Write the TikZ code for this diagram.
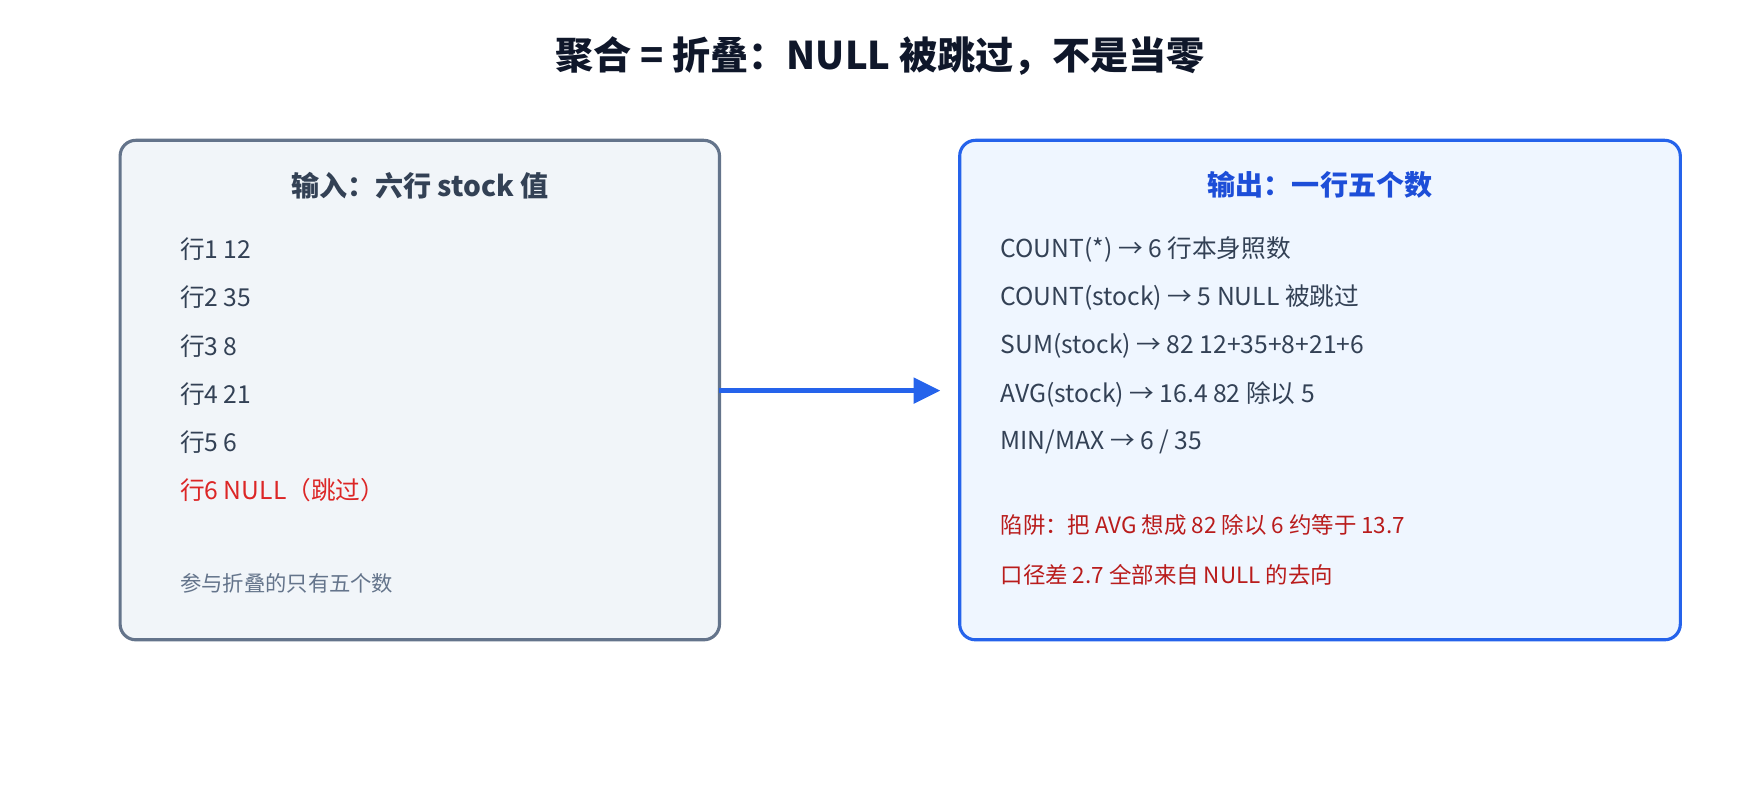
\documentclass[tikz,border=0pt]{standalone}
\usepackage{fontspec}
\setmainfont{Noto Sans CJK SC}
\usetikzlibrary{arrows.meta}
\definecolor{txt}{HTML}{334155}
\definecolor{gborder}{HTML}{64748B}
\definecolor{gfill}{HTML}{F1F5F9}
\definecolor{bborder}{HTML}{2563EB}
\definecolor{bfill}{HTML}{EFF6FF}
\definecolor{bhead}{HTML}{1D4ED8}
\definecolor{redA}{HTML}{DC2626}
\definecolor{redB}{HTML}{B91C1C}
\definecolor{titlec}{HTML}{0F172A}
\begin{document}
\begin{tikzpicture}[x=0.5pt,y=-0.5pt,
  box/.style={rounded corners=7pt,line width=1.4pt},
  ln/.style={anchor=west,font=\fontsize{11}{13}\selectfont,text=txt,inner sep=0},
  head/.style={font=\fontsize{12.5}{15}\selectfont\bfseries,inner sep=0}]
\useasboundingbox (0,0) rectangle (1568,713);
\node[font=\fontsize{17}{20}\selectfont\bfseries,text=titlec] (title) at (784,50) {聚合 = 折叠：NULL 被跳过，不是当零};
\draw[box,draw=gborder,fill=gfill] (107,125) rectangle (641,570);
\coordinate (lb) at (641,348);
\draw[box,draw=bborder,fill=bfill] (855,125) rectangle (1497,570);
\coordinate (rb) at (838,348);
\node[head,text=txt] (lh) at (374,165) {输入：六行 stock 值};
\node[ln] (l1) at (160,222) {行1 12};
\node[ln] (l2) at (160,265) {行2 35};
\node[ln] (l3) at (160,308) {行3 8};
\node[ln] (l4) at (160,351) {行4 21};
\node[ln] (l5) at (160,394) {行5 6};
\node[ln,text=redA] (l6) at (160,437) {行6 NULL（跳过）};
\node[ln,text=gborder,font=\fontsize{9.5}{11}\selectfont] (l7) at (160,520) {参与折叠的只有五个数};
\node[head,text=bhead] (rh) at (1176,165) {输出：一行五个数};
\node[ln] (r1) at (891,222) {COUNT(*) → 6 行本身照数};
\node[ln] (r2) at (891,265) {COUNT(stock) → 5 NULL 被跳过};
\node[ln] (r3) at (891,308) {SUM(stock) → 82 12+35+8+21+6};
\node[ln] (r4) at (891,351) {AVG(stock) → 16.4 82 除以 5};
\node[ln] (r5) at (891,394) {MIN/MAX → 6 / 35};
\node[ln,text=redB,font=\fontsize{10}{12}\selectfont] (r6) at (891,468) {陷阱：把 AVG 想成 82 除以 6 约等于 13.7};
\node[ln,text=redB,font=\fontsize{10}{12}\selectfont] (r7) at (891,512) {口径差 2.7 全部来自 NULL 的去向};
\draw[bborder,line width=2.5pt,-{Triangle[length=12pt,width=11pt]}] (lb) -- (rb);
\end{tikzpicture}
\end{document}
